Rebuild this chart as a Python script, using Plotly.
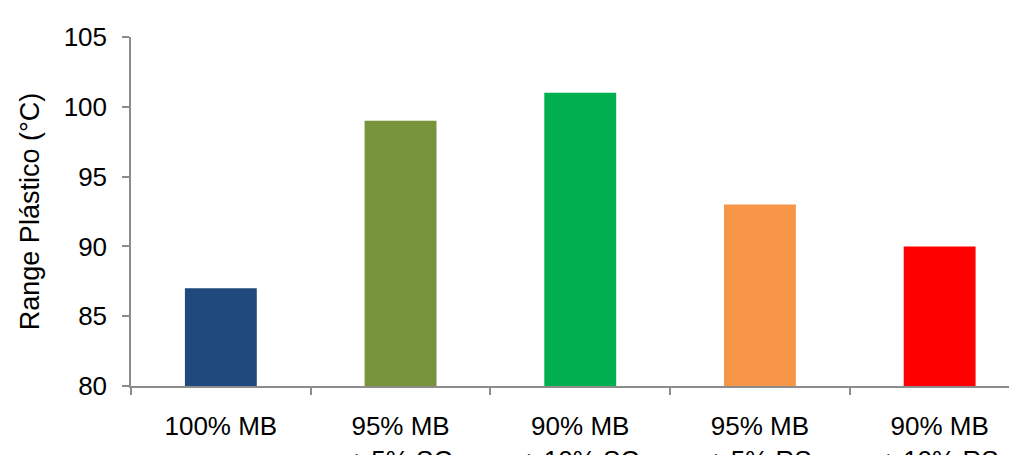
import plotly.graph_objects as go

# Plastic range by blend composition
categories = ["100% MB", "95% MB<br>+ 5% SC", "90% MB<br>+ 10% SC",
              "95% MB<br>+ 5% RS", "90% MB<br>+ 10% RS"]
plastic_range = [87, 99, 101, 93, 90]
bar_colors = ["#1F497D", "#77933C", "#00B050", "#F79646", "#FF0000"]
y_ticks = [80, 85, 90, 95, 100, 105]

font_family = "Liberation Sans, Arial, sans-serif"
axis_grey = "#8C8C8C"

fig = go.Figure(
    go.Bar(
        x=categories,
        y=plastic_range,
        marker=dict(color=bar_colors, line=dict(width=0)),
        width=0.4,
    )
)

fig.update_layout(
    width=1009,
    height=455,
    margin=dict(l=131, r=0, t=37, b=69, autoexpand=False),
    paper_bgcolor="white",
    plot_bgcolor="white",
    showlegend=False,
    font=dict(family=font_family, size=26, color="#000000"),
)

fig.update_xaxes(
    type="category",
    range=[-0.5, 4.386],
    automargin=False,
    showline=True,
    linecolor=axis_grey,
    linewidth=1.5,
    ticks="outside",
    tickson="boundaries",
    ticklen=7,
    tickcolor=axis_grey,
    tickwidth=1.5,
    showgrid=False,
    ticklabelstandoff=16,
    tickfont=dict(size=26, family=font_family, color="#000000"),
)

fig.update_yaxes(
    range=[80, 105],
    tickvals=y_ticks,
    automargin=False,
    showline=True,
    linecolor=axis_grey,
    linewidth=1.5,
    ticks="outside",
    ticklen=7,
    tickcolor=axis_grey,
    tickwidth=1.5,
    showgrid=False,
    zeroline=False,
    ticklabelstandoff=10,
    tickfont=dict(size=26, family=font_family, color="#000000"),
    title=dict(text="Range Plástico (°C)", standoff=16,
               font=dict(size=27, family=font_family, color="#000000")),
)

fig.write_html("out.html")
